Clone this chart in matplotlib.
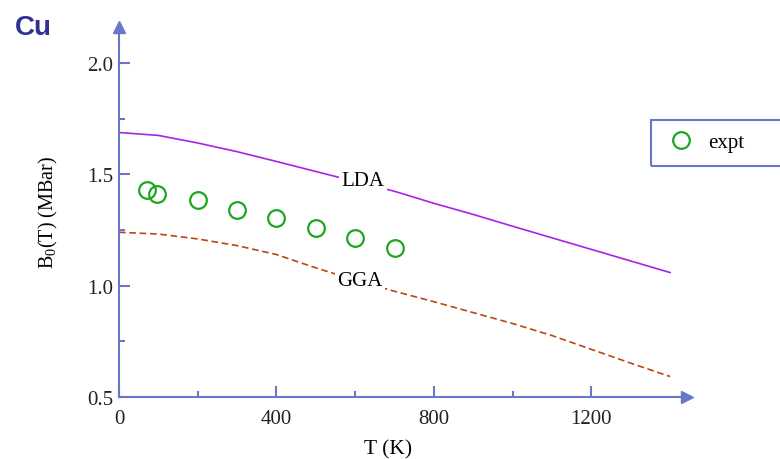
import matplotlib
matplotlib.use("Agg")
import matplotlib.pyplot as plt
from matplotlib.patches import Rectangle

# computed bulk modulus vs temperature
T_CALC = [0, 100, 200, 300, 400, 500, 600, 700, 800, 900, 1000, 1100, 1200, 1300, 1400]
B_LDA = [1.688, 1.675, 1.641, 1.602, 1.558, 1.513, 1.468, 1.424, 1.370, 1.320,
         1.267, 1.215, 1.163, 1.111, 1.059]
B_GGA = [1.240, 1.232, 1.210, 1.180, 1.140, 1.080, 1.025, 0.975, 0.928, 0.879,
         0.830, 0.776, 0.714, 0.652, 0.592]

# experiment
T_EXPT = [70, 96, 200, 300, 400, 500, 600, 700]
B_EXPT = [1.429, 1.410, 1.384, 1.339, 1.306, 1.261, 1.215, 1.170]

XTICKS = [0, 400, 800, 1200]
YTICKS = [0.5, 1.0, 1.5, 2.0]

AXIS_COLOR = "#6b76c8"
LDA_COLOR = "#a824e4"
GGA_COLOR = "#b8480f"
EXPT_COLOR = "#1ea61e"
TITLE_COLOR = "#2e3192"

plt.rcParams["font.family"] = ["Liberation Serif", "DejaVu Serif"]
plt.rcParams["mathtext.fontset"] = "custom"
plt.rcParams["mathtext.rm"] = "Liberation Serif"
plt.rcParams["mathtext.default"] = "regular"

fig = plt.figure(figsize=(7.8, 4.6), dpi=100)
ax = fig.add_axes([119 / 780, 62 / 460, 568 / 780, 370 / 460])

ax.plot(T_CALC, B_LDA, color=LDA_COLOR, lw=1.2)
ax.plot(T_CALC, B_GGA, color=GGA_COLOR, lw=1.2, ls=(0, (4, 2.2)))
ax.plot(T_EXPT, B_EXPT, "o", ls="none", ms=12, mfc="none", mec=EXPT_COLOR,
        mew=1.6, label="expt")

ax.text(620, 1.474, "LDA", fontsize=15, ha="center", va="center",
        bbox=dict(fc="white", ec="none", pad=2))
ax.text(612, 1.025, "GGA", fontsize=15, ha="center", va="center",
        bbox=dict(fc="white", ec="none", pad=2))

ax.set_xlim(0, 1443)
ax.set_ylim(0.5, 2.162)

for side in ["top", "right"]:
    ax.spines[side].set_visible(False)
for side in ["left", "bottom"]:
    ax.spines[side].set_color(AXIS_COLOR)
    ax.spines[side].set_linewidth(1.5)

# arrow heads at the axis ends
ax.plot(1, 0, ">", color=AXIS_COLOR, ms=9, transform=ax.transAxes, clip_on=False)
ax.plot(0, 1, "^", color=AXIS_COLOR, ms=9, transform=ax.transAxes, clip_on=False)

ax.set_xticks(XTICKS)
ax.set_xticklabels([str(t) for t in XTICKS])
ax.set_xticks([200, 600, 1000], minor=True)
ax.set_yticks(YTICKS)
ax.set_yticklabels([f"{v:.1f}" for v in YTICKS])
ax.set_yticks([0.75, 1.25, 1.75], minor=True)
ax.tick_params(which="both", direction="in", color=AXIS_COLOR, width=1.5,
               labelsize=15, labelcolor="#222222")
ax.tick_params(which="major", length=8)
ax.tick_params(which="minor", length=4.5)
ax.tick_params(axis="x", which="major", pad=9)
ax.tick_params(axis="y", which="major", pad=4)

ax.set_xlabel("T (K)", fontsize=15.5)
ax.xaxis.set_label_coords(0.473, -0.115)
ax.set_ylabel("B$_0$(T) (MBar)", fontsize=14.5)
ax.yaxis.set_label_coords(-0.104, 0.503)

leg = fig.legend(loc="center left", bbox_to_anchor=(665 / 780, 1 - 143 / 460),
                 fontsize=15, frameon=False, borderpad=0, borderaxespad=0,
                 handlelength=1.5, handletextpad=0.55)
fig.patches.append(Rectangle((651 / 780, 1 - 167 / 460), 140 / 780, 46 / 460,
                             transform=fig.transFigure, fill=False,
                             ec=AXIS_COLOR, lw=1.5))

fig.text(15 / 780, 1 - 35 / 460, "Cu", fontsize=20, fontweight="bold",
         color=TITLE_COLOR, family=["Liberation Sans", "DejaVu Sans"],
         va="baseline")

fig.savefig("out.png", dpi=100)
